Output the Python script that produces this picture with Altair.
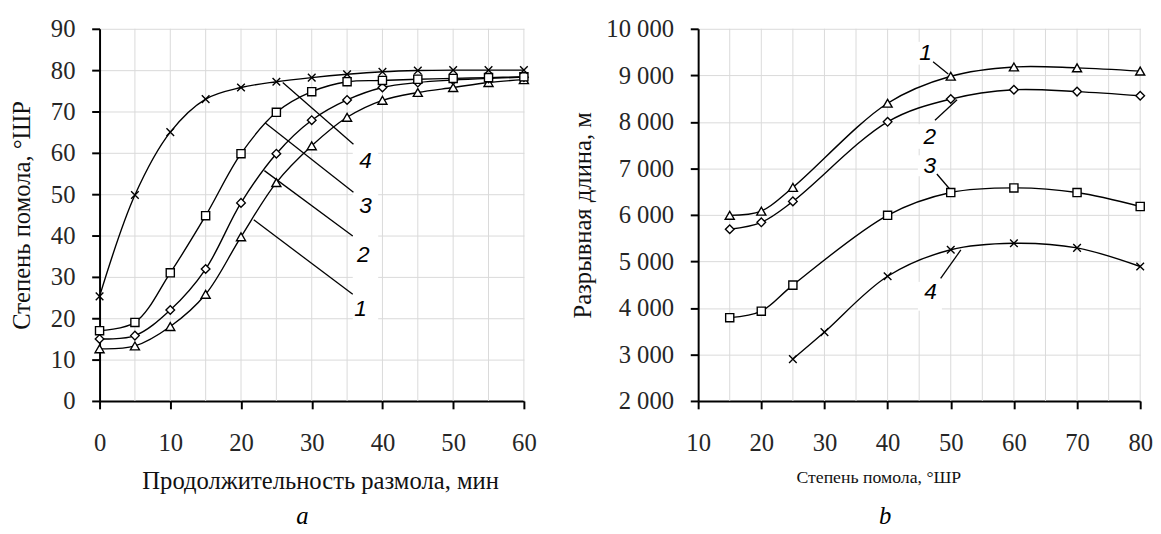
import altair as alt
import pandas as pd

# ---------------- Panel a: grinding degree vs grinding time ----------------
time_min = [0, 5, 10, 15, 20, 25, 30, 35, 40, 45, 50, 55, 60]
a_curve1 = [12.6, 13.3, 18.0, 25.8, 39.7, 52.8, 61.7, 68.6, 72.7, 74.6, 75.8, 77.0, 77.7]
a_curve2 = [15.0, 15.8, 22.0, 31.9, 47.9, 59.8, 67.9, 72.8, 75.8, 77.0, 77.6, 78.0, 78.3]
a_curve3 = [17.0, 19.0, 31.0, 44.8, 59.8, 69.8, 74.8, 77.2, 77.5, 77.8, 78.0, 78.2, 78.4]
a_curve4 = [25.3, 49.8, 65.0, 73.0, 75.8, 77.2, 78.2, 79.0, 79.6, 79.9, 80.0, 80.0, 80.0]

# ---------------- Panel b: breaking length vs grinding degree ----------------
sr_b = [15, 20, 25, 40, 50, 60, 70, 80]
b_curve1 = [5990, 6080, 6590, 8400, 8980, 9180, 9160, 9090]
b_curve2 = [5690, 5840, 6290, 8000, 8490, 8690, 8650, 8560]
b_curve3 = [3790, 3930, 4490, 5990, 6480, 6580, 6480, 6180]
sr_b4 = [25, 30, 40, 50, 60, 70, 80]
b_curve4 = [2900, 3480, 4680, 5250, 5390, 5290, 4890]

series_ids = ["1", "2", "3", "4"]

# annotation labels (data units)
a_lab_x = [36.9, 37.3, 37.6, 37.6]
a_lab_y = [22.2, 35.3, 47.0, 58.0]
a_lead_x1 = [21.8, 23.3, 23.4, 25.9]
a_lead_y1 = [43.8, 55.7, 67.3, 77.0]
a_lead_x2 = [35.8, 35.8, 35.9, 35.9]
a_lead_y2 = [25.8, 39.9, 50.5, 62.1]
a_box_y1 = [26.0, 40.5, 50.8, 62.0]
a_box_y2 = [17.5, 29.0, 42.0, 53.5]
a_box_x1 = [35.8] * 4
a_box_x2 = [39.4] * 4

b_lab_x = [46.0, 46.7, 46.7, 46.8]
b_lab_y = [9468, 7681, 7043, 4331]
b_lead_x1 = [47.2, 47.5, 47.8, 48.4]
b_lead_y1 = [9291, 8035, 6879, 4634]
b_lead_x2 = [49.6, 51.0, 49.9, 51.6]
b_lead_y2 = [9028, 8475, 6546, 5246]
b_box_x1 = [44.8, 44.8, 44.8, 44.8]
b_box_x2 = [48.0, 48.3, 48.3, 48.6]
b_box_y1 = [9720, 7950, 7280, 4560]
b_box_y2 = [9230, 7420, 6830, 3940]

GRID = "#d9d9d9"
SERIF = "Liberation Serif"
CROSS = "M-1,-1L1,1M-1,1L1,-1"


def long_df(xs_list, ys_list):
    rows = []
    for sid, xs, ys in zip(series_ids, xs_list, ys_list):
        for x, y in zip(xs, ys):
            rows.append({"x": x, "y": y, "s": sid})
    return pd.DataFrame(rows)


AXIS_STYLE = dict(domainColor="black", domainWidth=2, tickColor="black", tickWidth=2,
                  tickSize=8, labelFont=SERIF, labelFontSize=25, labelColor="#262626",
                  titleFont=SERIF, titleFontWeight="normal", titleColor="#111111",
                  labelFlush=False)


def panel(df, grid_x, lab, lead, box, xdom, ydom, xvals, yvals, w, h,
          xtitle, ytitle, xtitle_x, xtitle_size, ylab_expr, sub, sub_x,
          ylabpad, ytitlepad):
    xs = alt.Scale(domain=xdom, nice=False, zero=False)
    ys = alt.Scale(domain=ydom, nice=False, zero=False)

    yaxis = dict(values=yvals, grid=True, gridColor=GRID, gridWidth=1,
                 title=ytitle, labelPadding=ylabpad, titlePadding=ytitlepad,
                 titleFontSize=25, **AXIS_STYLE)
    if ylab_expr:
        yaxis["labelExpr"] = ylab_expr
    xaxis = alt.Axis(values=xvals, grid=False, title=xtitle, labelPadding=22,
                     titlePadding=14, titleX=xtitle_x, titleFontSize=xtitle_size,
                     **AXIS_STYLE)

    grid_df = pd.DataFrame({"v": grid_x})
    grid = alt.Chart(grid_df).mark_rule(color=GRID, strokeWidth=1).encode(
        x=alt.X("v:Q", scale=xs, axis=xaxis),
        y=alt.value(0), y2=alt.value(h))

    box_df = pd.DataFrame({"x1": box[0], "x2": box[1], "y1": box[2], "y2": box[3]})
    boxes = alt.Chart(box_df).mark_rect(color="white", opacity=1).encode(
        x=alt.X("x1:Q", scale=xs), x2="x2:Q",
        y=alt.Y("y1:Q", scale=ys, axis=alt.Axis(**yaxis)), y2="y2:Q")

    lead_df = pd.DataFrame({"x1": lead[0], "y1": lead[1], "x2": lead[2], "y2": lead[3]})
    leaders = alt.Chart(lead_df).mark_rule(color="black", strokeWidth=1.3).encode(
        x=alt.X("x1:Q", scale=xs), y=alt.Y("y1:Q", scale=ys),
        x2="x2:Q", y2="y2:Q")

    lines = alt.Chart(df).mark_line(interpolate="catmull-rom", color="black",
                                    strokeWidth=1.4).encode(
        x=alt.X("x:Q", scale=xs), y=alt.Y("y:Q", scale=ys), detail="s:N")

    pts = alt.Chart(df).mark_point(filled=False, fill="white", fillOpacity=1,
                                   stroke="black", strokeWidth=1.4, opacity=1).encode(
        x=alt.X("x:Q", scale=xs), y=alt.Y("y:Q", scale=ys),
        shape=alt.Shape("s:N", scale=alt.Scale(
            domain=series_ids, range=["triangle-up", "diamond", "square", CROSS]), legend=None),
        size=alt.Size("s:N", scale=alt.Scale(domain=series_ids, range=[85, 60, 150, 80]),
                      legend=None))

    lab_df = pd.DataFrame({"x": lab[0], "y": lab[1], "t": series_ids})
    labels = alt.Chart(lab_df).mark_text(font="Liberation Sans", fontStyle="italic",
                                         fontSize=23, color="black").encode(
        x=alt.X("x:Q", scale=xs), y=alt.Y("y:Q", scale=ys), text="t:N")

    sub_df = pd.DataFrame({"t": [sub]})
    subl = alt.Chart(sub_df).mark_text(font=SERIF, fontStyle="italic", fontSize=25,
                                       color="black", baseline="alphabetic").encode(
        x=alt.value(sub_x), y=alt.value(h + 125), text="t:N")

    return alt.layer(grid, boxes, leaders, lines, pts, labels, subl).properties(
        width=w, height=h)


df_a = long_df([time_min] * 4, [a_curve1, a_curve2, a_curve3, a_curve4])
df_b = long_df([sr_b, sr_b, sr_b, sr_b4], [b_curve1, b_curve2, b_curve3, b_curve4])

left = panel(df_a, list(range(5, 61, 5)),
             (a_lab_x, a_lab_y), (a_lead_x1, a_lead_y1, a_lead_x2, a_lead_y2),
             (a_box_x1, a_box_x2, a_box_y1, a_box_y2),
             [0, 60], [0, 90], list(range(0, 61, 10)), list(range(0, 91, 10)),
             431, 378, "Продолжительность размола, мин", "Степень помола, °ШР",
             224, 25, None, "a", 206, 17, 16)

right = panel(df_b, list(range(15, 81, 5)),
              (b_lab_x, b_lab_y), (b_lead_x1, b_lead_y1, b_lead_x2, b_lead_y2),
              (b_box_x1, b_box_x2, b_box_y1, b_box_y2),
              [10, 80], [2000, 10000], list(range(10, 81, 10)), list(range(2000, 10001, 1000)),
              449, 378, "Степень помола, °ШР", "Разрывная длина, м",
              183, 18, "replace(format(datum.value, ','), ',', ' ')", "b", 190, 17, 11)

chart = alt.hconcat(left, right, spacing=34).configure(
    padding={"left": 2, "top": 5, "right": 0, "bottom": 0}, font=SERIF
).configure_view(stroke=None)

chart.save("out.html", embed_options={"renderer": "svg", "actions": False})
